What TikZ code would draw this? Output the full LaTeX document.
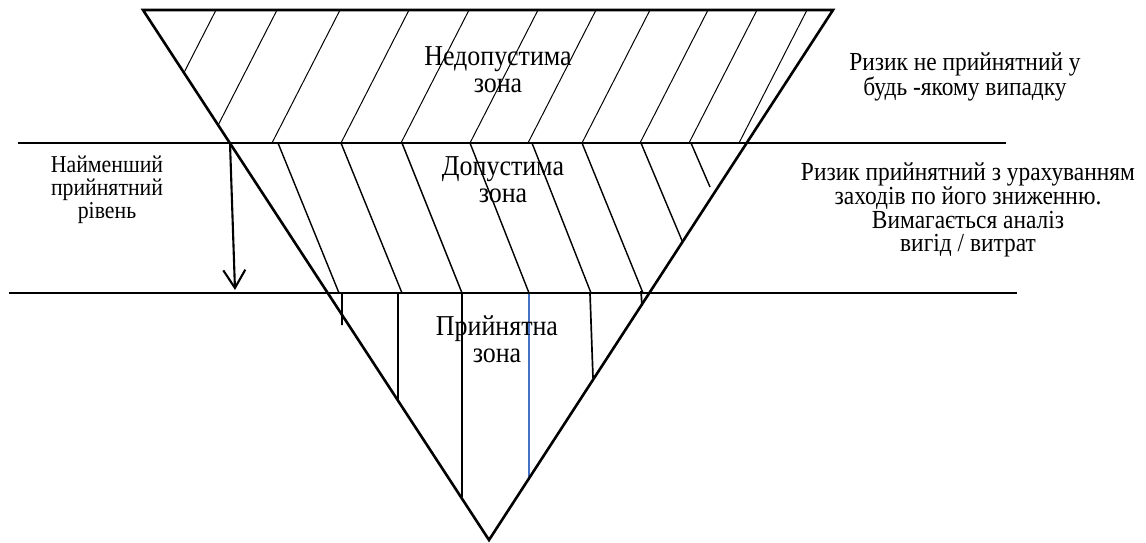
\documentclass[tikz,border=0pt]{standalone}
\usepackage{fontspec}
\setmainfont[FakeStretch=0.9]{Liberation Serif}
\usetikzlibrary{arrows.meta}
\definecolor{riskblue}{RGB}{68, 114, 196}

\begin{document}
\begin{tikzpicture}[
  x=0.025cm, y=-0.025cm,
  outline/.style={line width=1.85pt, line join=miter},
  level/.style={line width=1.5pt},
  hatchtop/.style={line width=0.7pt},
  hatchmid/.style={line width=1pt},
  hatchlow/.style={line width=1.2pt},
  zonelabel/.style={anchor=north, inner sep=0pt, align=center,
              font=\fontsize{20.5}{19.2}\selectfont},
  sidelabel/.style={anchor=north, inner sep=0pt, align=center,
              font=\fontsize{18.5}{16.9}\selectfont},
  arrow/.style={-{Straight Barb[length=4.5mm, width=5.5mm]}, line width=1.5pt},
]
  \useasboundingbox (0,0) rectangle (1146,542);

  \coordinate (tl) at (143,10);
  \coordinate (tr) at (833,10);
  \coordinate (apex) at (489,540);
  \coordinate (lvlA) at (230,143);
  \coordinate (lvlB) at (235,290);

  % hatching, kept inside the triangle
  \begin{scope}
    \clip (tl) -- (tr) -- (apex) -- cycle;
    \draw[hatchtop] (216,10) -- (148,143) (277,10) -- (209,143)
      (340,10) -- (272,143) (409,10) -- (341,143) (469,10) -- (401,143)
      (538,10) -- (470,143) (596,10) -- (528,143) (650,10) -- (582,143)
      (708,10) -- (640,143) (757,10) -- (689,143) (807,10) -- (739,143);
    \draw[hatchmid] (278,143) -- (339,293) (341,143) -- (402,293)
      (402,143) -- (462,293) (470,143) -- (529,293) (532,143) -- (591,293)
      (582,143) -- (643,293) (641,143) -- (704,293) (691,143) -- (710,187);
  \end{scope}
  \draw[hatchlow] (342,293) -- (342,325) (398,293) -- (398,402)
    (462,293) -- (462,497) (590,293) -- (593,378) (641,291) -- (642,306);
  \draw[hatchlow, riskblue] (529,293) -- (529,480);

  % triangle and levels
  \draw[outline] (tl) -- (tr) -- (apex) -- cycle;
  \draw[level] (18,143) -- (1006,143);
  \draw[level] (9,293) -- (1017,293);
  \draw[arrow] (lvlA) -- (lvlB);

  \node[zonelabel] (banned) at (498,46.5) {Недопустима\\зона};
  \node[zonelabel] (tolerable) at (503,156.5) {Допустима\\зона};
  \node[zonelabel] (accepted) at (497,315.5) {Прийнятна\\зона};
  \node[sidelabel, font=\fontsize{17.2}{16.2}\selectfont] (minlevel) at (107,156)
    {Найменший\\прийнятний\\рівень};
  \node[sidelabel] (never) at (965,52) {Ризик не прийнятний у\\будь -якому випадку};
  \node[sidelabel] (costbenefit) at (968,162.5)
    {Ризик прийнятний з урахуванням\\заходів по його зниженню.\\Вимагається аналіз\\вигід / витрат};
\end{tikzpicture}
\end{document}
